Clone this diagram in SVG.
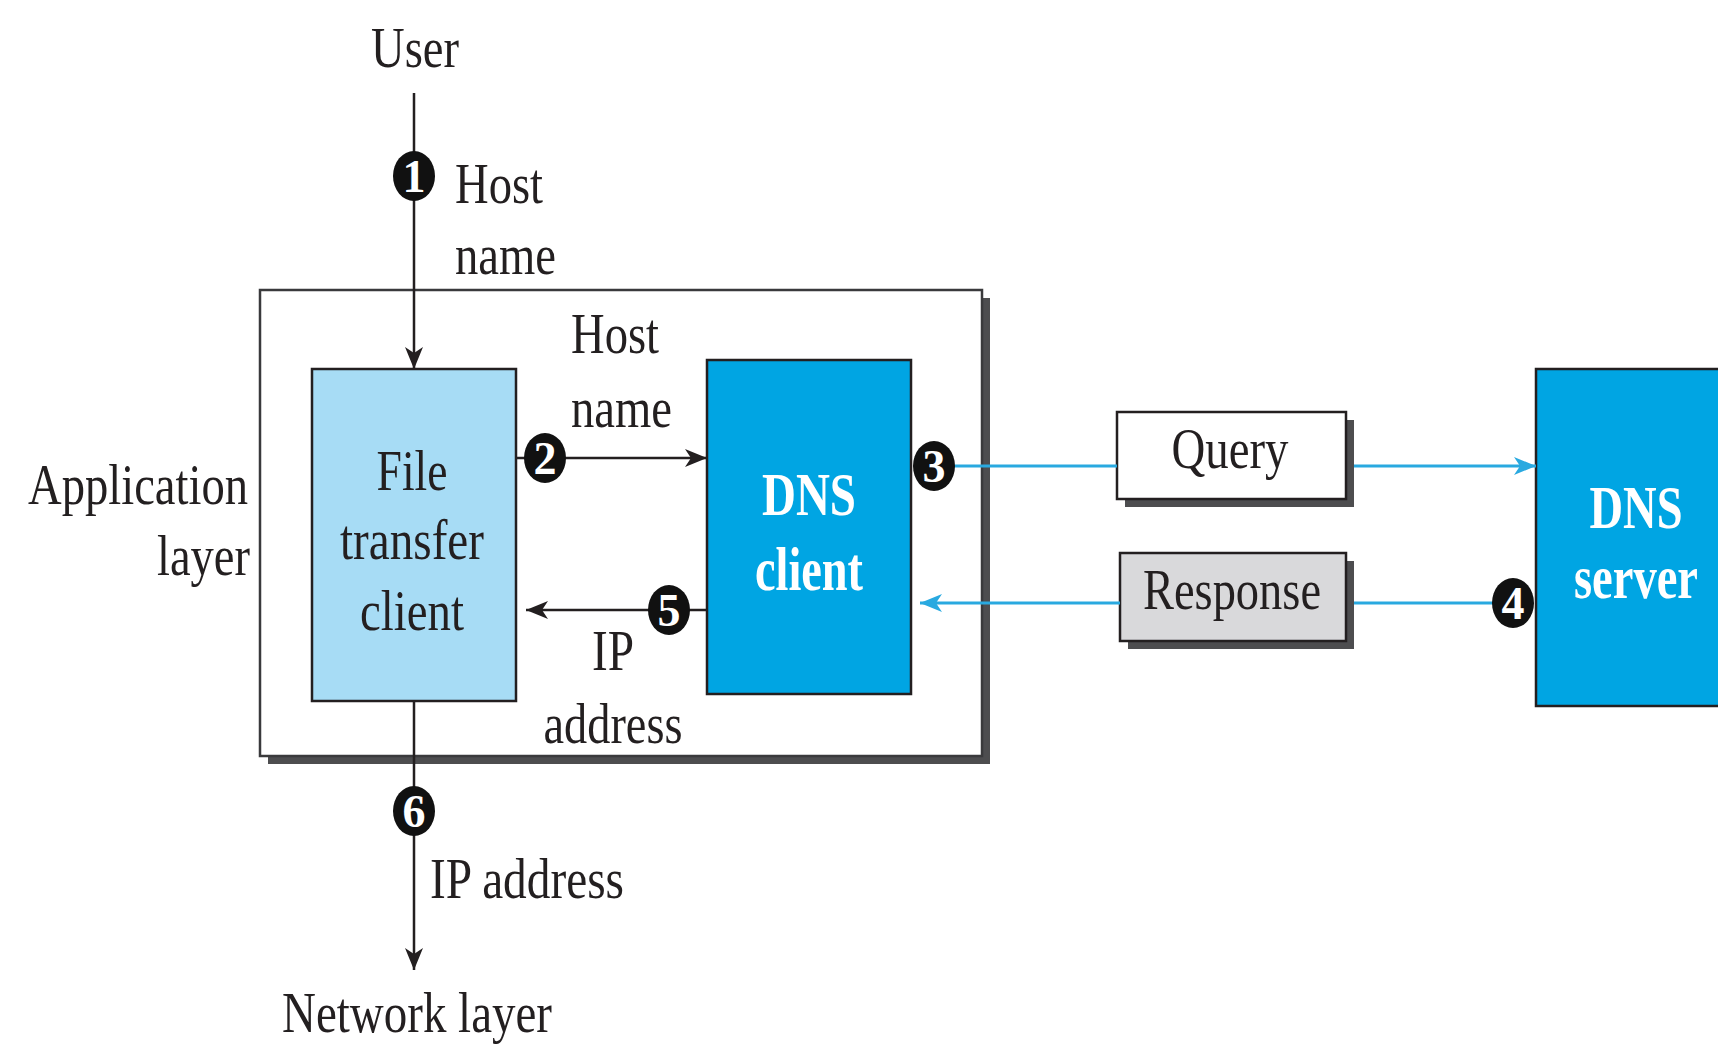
<svg xmlns="http://www.w3.org/2000/svg" width="1718" height="1050" viewBox="0 0 1718 1050">
<style>
text{font-family:"Liberation Serif","Times New Roman",serif;fill:#231f20}
.t{font-size:56px}
.c{text-anchor:middle}
.b{font-weight:bold;fill:#fff;font-size:62px}
.num{font-family:"Liberation Serif",serif;font-weight:bold;fill:#fff;font-size:46px;text-anchor:middle}
.ln{stroke:#231f20;stroke-width:2.5;fill:none}
.bl{stroke:#29a9e0;stroke-width:3;fill:none}
.sh{fill:#4d4d4f}
</style>
<defs>
<marker id="ak" markerUnits="userSpaceOnUse" markerWidth="24" markerHeight="20" refX="22" refY="10" orient="auto">
<path d="M0,1 L22,10 L0,19 L6,10 z" fill="#231f20"/>
</marker>
<marker id="ab" markerUnits="userSpaceOnUse" markerWidth="24" markerHeight="20" refX="22" refY="10" orient="auto">
<path d="M0,1 L22,10 L0,19 L6,10 z" fill="#29a9e0"/>
</marker>
</defs>
<rect width="1718" height="1050" fill="#fff"/>

<g id="app-layer-box">
<rect class="sh" x="268" y="298" width="722" height="466"/>
<rect x="260" y="290" width="722" height="466" fill="#fff" stroke="#3a3a3c" stroke-width="2.5"/>
</g>

<g id="ftc">
<rect x="312" y="369" width="204" height="332" fill="#a7dcf5" stroke="#231f20" stroke-width="2.5"/>
<text class="t c" x="412" y="490" textLength="71" lengthAdjust="spacingAndGlyphs">File</text>
<text class="t c" x="412" y="559" textLength="144" lengthAdjust="spacingAndGlyphs">transfer</text>
<text class="t c" x="412" y="630" textLength="104" lengthAdjust="spacingAndGlyphs">client</text>
</g>

<g id="dns-client">
<rect x="707" y="360" width="204" height="334" fill="#00a5e3" stroke="#231f20" stroke-width="2.5"/>
<text class="b c" x="809" y="515" textLength="94" lengthAdjust="spacingAndGlyphs">DNS</text>
<text class="b c" x="809" y="590" textLength="108" lengthAdjust="spacingAndGlyphs">client</text>
</g>

<g id="dns-server">
<rect x="1536" y="369" width="190" height="337" fill="#00a5e3" stroke="#231f20" stroke-width="2.5"/>
<text class="b c" x="1636" y="528" textLength="93" lengthAdjust="spacingAndGlyphs">DNS</text>
<text class="b c" x="1636" y="598" textLength="124" lengthAdjust="spacingAndGlyphs">server</text>
</g>

<g id="query">
<rect class="sh" x="1125" y="420" width="229" height="87"/>
<rect x="1117" y="412" width="229" height="87" fill="#fff" stroke="#231f20" stroke-width="2.5"/>
<text class="t c" x="1230" y="468" textLength="117" lengthAdjust="spacingAndGlyphs">Query</text>
</g>

<g id="response">
<rect class="sh" x="1128" y="561" width="226" height="88"/>
<rect x="1120" y="553" width="226" height="88" fill="#d9d9db" stroke="#231f20" stroke-width="2.5"/>
<text class="t c" x="1232" y="609" textLength="178" lengthAdjust="spacingAndGlyphs">Response</text>
</g>

<g id="connectors">
<line class="ln" x1="414" y1="93" x2="414" y2="369" marker-end="url(#ak)"/>
<line class="ln" x1="414" y1="701" x2="414" y2="970" marker-end="url(#ak)"/>
<line class="ln" x1="516" y1="458" x2="707" y2="458" marker-end="url(#ak)"/>
<line class="ln" x1="707" y1="610" x2="526" y2="610" marker-end="url(#ak)"/>
<line class="bl" x1="950" y1="466" x2="1117" y2="466"/>
<line class="bl" x1="1354" y1="466" x2="1536" y2="466" marker-end="url(#ab)"/>
<line class="bl" x1="1495" y1="603" x2="1354" y2="603"/>
<line class="bl" x1="1120" y1="603" x2="920" y2="603" marker-end="url(#ab)"/>
</g>

<g id="step-1"><ellipse cx="414" cy="176" rx="21" ry="25" fill="#111"/><text class="num" x="414" y="192">1</text></g>
<g id="step-2"><ellipse cx="545" cy="458" rx="21" ry="25" fill="#111"/><text class="num" x="545" y="474">2</text></g>
<g id="step-3"><ellipse cx="934" cy="466" rx="21" ry="25" fill="#111"/><text class="num" x="934" y="482">3</text></g>
<g id="step-4"><ellipse cx="1513" cy="603" rx="21" ry="25" fill="#111"/><text class="num" x="1513" y="619">4</text></g>
<g id="step-5"><ellipse cx="669" cy="610" rx="21" ry="25" fill="#111"/><text class="num" x="669" y="626">5</text></g>
<g id="step-6"><ellipse cx="414" cy="811" rx="21" ry="25" fill="#111"/><text class="num" x="414" y="827">6</text></g>

<g id="labels">
<text class="t c" x="415" y="67" textLength="88" lengthAdjust="spacingAndGlyphs">User</text>
<text class="t" x="455" y="203" textLength="88" lengthAdjust="spacingAndGlyphs">Host</text>
<text class="t" x="455" y="274" textLength="101" lengthAdjust="spacingAndGlyphs">name</text>
<text class="t" x="571" y="353" textLength="88" lengthAdjust="spacingAndGlyphs">Host</text>
<text class="t" x="571" y="427" textLength="101" lengthAdjust="spacingAndGlyphs">name</text>
<text class="t c" x="613" y="670" textLength="42" lengthAdjust="spacingAndGlyphs">IP</text>
<text class="t c" x="613" y="743" textLength="139" lengthAdjust="spacingAndGlyphs">address</text>
<text class="t" x="430" y="898" textLength="194" lengthAdjust="spacingAndGlyphs">IP address</text>
<text class="t c" x="417" y="1032" textLength="270" lengthAdjust="spacingAndGlyphs">Network layer</text>
<text class="t" x="248" y="504" text-anchor="end" textLength="220" lengthAdjust="spacingAndGlyphs">Application</text>
<text class="t" x="250" y="575" text-anchor="end" textLength="93" lengthAdjust="spacingAndGlyphs">layer</text>
</g>
</svg>
